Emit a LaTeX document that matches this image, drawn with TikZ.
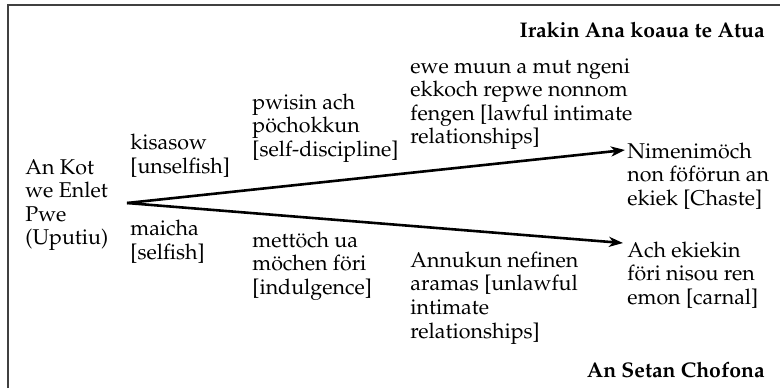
\documentclass[tikz,border=0pt]{standalone}
\usepackage[T1]{fontenc}
\usepackage{mathpazo}
\usetikzlibrary{arrows.meta}
\begin{document}
\begin{tikzpicture}[x=0.5pt,y=-0.5pt,
  lbl/.style={anchor=west,align=left,inner sep=0pt,font=\fontsize{10.7}{11.8}\selectfont},
  ttl/.style={anchor=east,inner sep=0pt,font=\fontsize{10.6}{12}\selectfont\bfseries},
  arr/.style={line width=1.3pt,-{Stealth[length=7pt,width=5pt,inset=2pt]}},
  frame/.style={line width=1pt,draw=black!75}]
\useasboundingbox (0,0) rectangle (780,388);
\draw[frame] (8,388) -- (8,5) -- (780,5);
\node[lbl] (src) at (25,205) {An Kot\\we Enlet\\Pwe\\(Uputiu)};
\coordinate (start) at (127,203);
\node[lbl] (good) at (627,176) {Nimenim\"och\\non f\"of\"orun an\\ekiek [Chaste]};
\node[lbl] (bad) at (627,275) {Ach ekiekin\\f\"ori nisou ren\\emon [carnal]};
\coordinate (goodtip) at (625,150);
\coordinate (badtip) at (623,243);
\draw[arr] (start) -- (goodtip);
\draw[arr] (start) -- (badtip);
\node[lbl] (u1) at (130,156) {kisasow\\[0pt][unselfish]};
\node[lbl] (u2) at (252,128) {pwisin ach\\p\"ochokkun\\[0pt][self-discipline]};
\node[lbl] (u3) at (410,104) {ewe muun a mut ngeni\\ekkoch repwe nonnom\\fengen [lawful intimate\\relationships]};
\node[lbl] (l1) at (130,242) {maicha\\[0pt][selfish]};
\node[lbl] (l2) at (252,266) {mett\"och ua\\m\"ochen f\"ori\\[0pt][indulgence]};
\node[lbl] (l3) at (410,298) {Annukun nefinen\\aramas [unlawful\\intimate\\relationships]};
\node[ttl] (top) at (765,30) {Irakin Ana koaua te Atua};
\node[ttl] (bot) at (765,370) {An Setan Chofona};
\end{tikzpicture}
\end{document}
